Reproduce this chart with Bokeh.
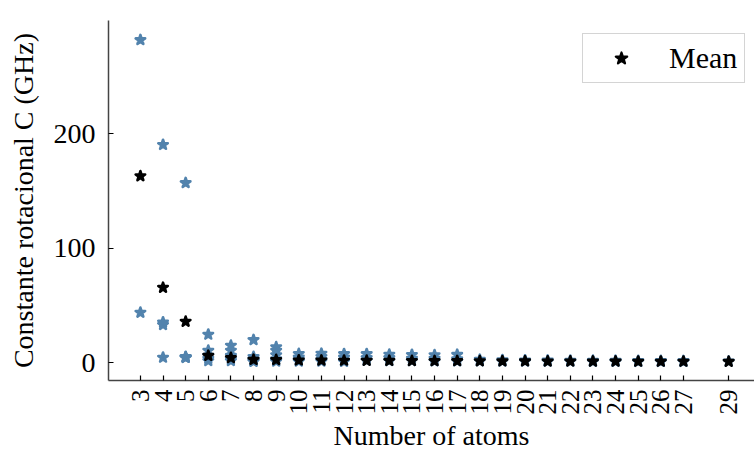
import math

from bokeh.embed import file_html
from bokeh.models import ColumnDataSource, FixedTicker, Legend, LegendItem, Range1d
from bokeh.plotting import figure
from bokeh.resources import INLINE

# Rotational constant C (GHz) of each molecule, grouped by number of atoms
sample_atoms = (
    [3, 3]
    + [4, 4, 4, 4]
    + [5, 5, 5, 5, 5]
    + [6, 6, 6, 6, 6]
    + [7, 7, 7, 7, 7]
    + [8, 8, 8, 8, 8]
    + [9, 9, 9, 9, 9]
    + [10, 10, 10, 10]
    + [11, 11, 11, 11]
    + [12, 12, 12, 12]
    + [13, 13, 13]
    + [14, 14, 14]
    + [15, 15, 15]
    + [16, 16, 16]
    + [17, 17, 17]
    + [18, 18]
    + [19, 19]
    + [20, 20]
    + [21, 21]
    + [22, 22]
    + [23, 23]
    + [24, 24]
    + [25, 25]
    + [26, 26]
    + [27, 27]
    + [29]
)
sample_C = (
    [282.0, 43.7]
    + [190.4, 35.2, 33.0, 4.4]
    + [157.0, 5.0, 4.6, 4.4, 4.2]
    + [24.5, 10.5, 6.0, 3.5, 1.5]
    + [14.8, 10.5, 6.0, 3.0, 1.5]
    + [19.8, 5.0, 3.0, 1.5, 0.8]
    + [13.5, 10.5, 6.5, 3.0, 1.0]
    + [7.6, 4.5, 2.5, 1.0]
    + [7.8, 5.0, 2.5, 1.0]
    + [7.5, 4.5, 2.0, 0.8]
    + [7.5, 4.0, 1.8]
    + [7.0, 4.0, 1.5]
    + [6.8, 3.5, 1.5]
    + [6.5, 3.5, 1.2]
    + [6.9, 3.0, 1.2]
    + [2.5, 1.2]
    + [2.2, 1.0]
    + [2.0, 1.0]
    + [1.9, 0.9]
    + [1.8, 0.9]
    + [1.7, 0.8]
    + [1.6, 0.8]
    + [1.5, 0.7]
    + [1.5, 0.7]
    + [1.4, 0.7]
    + [1.0]
)

# Mean rotational constant per number of atoms
mean_atoms = [3, 4, 5, 6, 7, 8, 9, 10, 11, 12, 13, 14, 15, 16, 17, 18, 19, 20,
              21, 22, 23, 24, 25, 26, 27, 29]
mean_C = [163.0, 65.5, 35.8, 6.0, 4.1, 2.5, 2.4, 2.0, 1.9, 1.8, 1.7, 1.6, 1.5,
          1.4, 1.4, 1.3, 1.2, 1.2, 1.1, 1.1, 1.0, 1.0, 0.9, 0.9, 0.9, 0.8]

y_ticks = [0, 100, 200]

FONT = "Liberation Serif"
BLUE = "#5283ad"

p = figure(
    width=754,
    height=455,
    output_backend="svg",
    toolbar_location=None,
    x_range=Range1d(1.59, 30.14),
    y_range=Range1d(-15.7, 299.0),
    min_border_left=108,
    min_border_right=0,
    min_border_top=20,
    min_border_bottom=75,
)
p.outline_line_color = None
p.xgrid.visible = False
p.ygrid.visible = False
p.background_fill_color = "white"
p.border_fill_color = "white"

samples = ColumnDataSource(dict(x=sample_atoms, y=sample_C))
means = ColumnDataSource(dict(x=mean_atoms, y=mean_C))

star_style = dict(marker="star", size=10, line_width=2.6, line_join="round")
p.scatter("x", "y", source=samples, fill_color=BLUE, line_color=BLUE, **star_style)
p.scatter("x", "y", source=means, fill_color="black", line_color="black", **star_style)

# hidden copy of the means with a smaller marker, used only as the legend key
key_r = p.scatter("x", "y", source=means, marker="star", size=7, line_width=2.2,
                  line_join="round", fill_color="black", line_color="black",
                  visible=False)

# axes
p.xaxis.ticker = FixedTicker(ticks=mean_atoms)
p.xaxis.major_label_overrides = {t: str(t) for t in mean_atoms}
p.xaxis.major_label_orientation = math.pi / 2
p.yaxis.ticker = FixedTicker(ticks=y_ticks)
p.xaxis.axis_label = "Number of atoms"
p.yaxis.axis_label = "Constante rotacional C (GHz)"

for ax in (p.xaxis, p.yaxis):
    ax.axis_line_color = "#444444"
    ax.axis_line_width = 1.5
    ax.major_tick_line_color = "black"
    ax.major_tick_line_width = 1.2
    ax.major_tick_in = 5
    ax.major_tick_out = 0
    ax.minor_tick_line_color = None
    ax.major_label_text_font = FONT
    ax.major_label_text_color = "black"
    ax.axis_label_text_font = FONT
    ax.axis_label_text_font_style = "normal"
    ax.axis_label_text_color = "black"
    ax.axis_label_text_font_size = "28px"

p.xaxis.major_label_text_font_size = "25px"
p.yaxis.major_label_text_font_size = "28px"
p.xaxis.major_label_standoff = 9
p.yaxis.major_label_standoff = 13
p.xaxis.axis_label_standoff = 2
p.yaxis.axis_label_standoff = 12

legend = Legend(
    items=[LegendItem(label="Mean", renderers=[key_r])],
    label_text_font=FONT,
    label_text_font_size="30px",
    label_text_color="black",
    glyph_width=62,
    glyph_height=30,
    label_standoff=17,
    padding=7,
    margin=0,
    border_line_color="#aaaaaa",
    border_line_width=1,
    background_fill_alpha=1.0,
    inactive_fill_alpha=0.0,
    click_policy="none",
)
legend.location = (474, 297)
p.add_layout(legend)

open("out.html", "w").write(file_html(p, INLINE))
